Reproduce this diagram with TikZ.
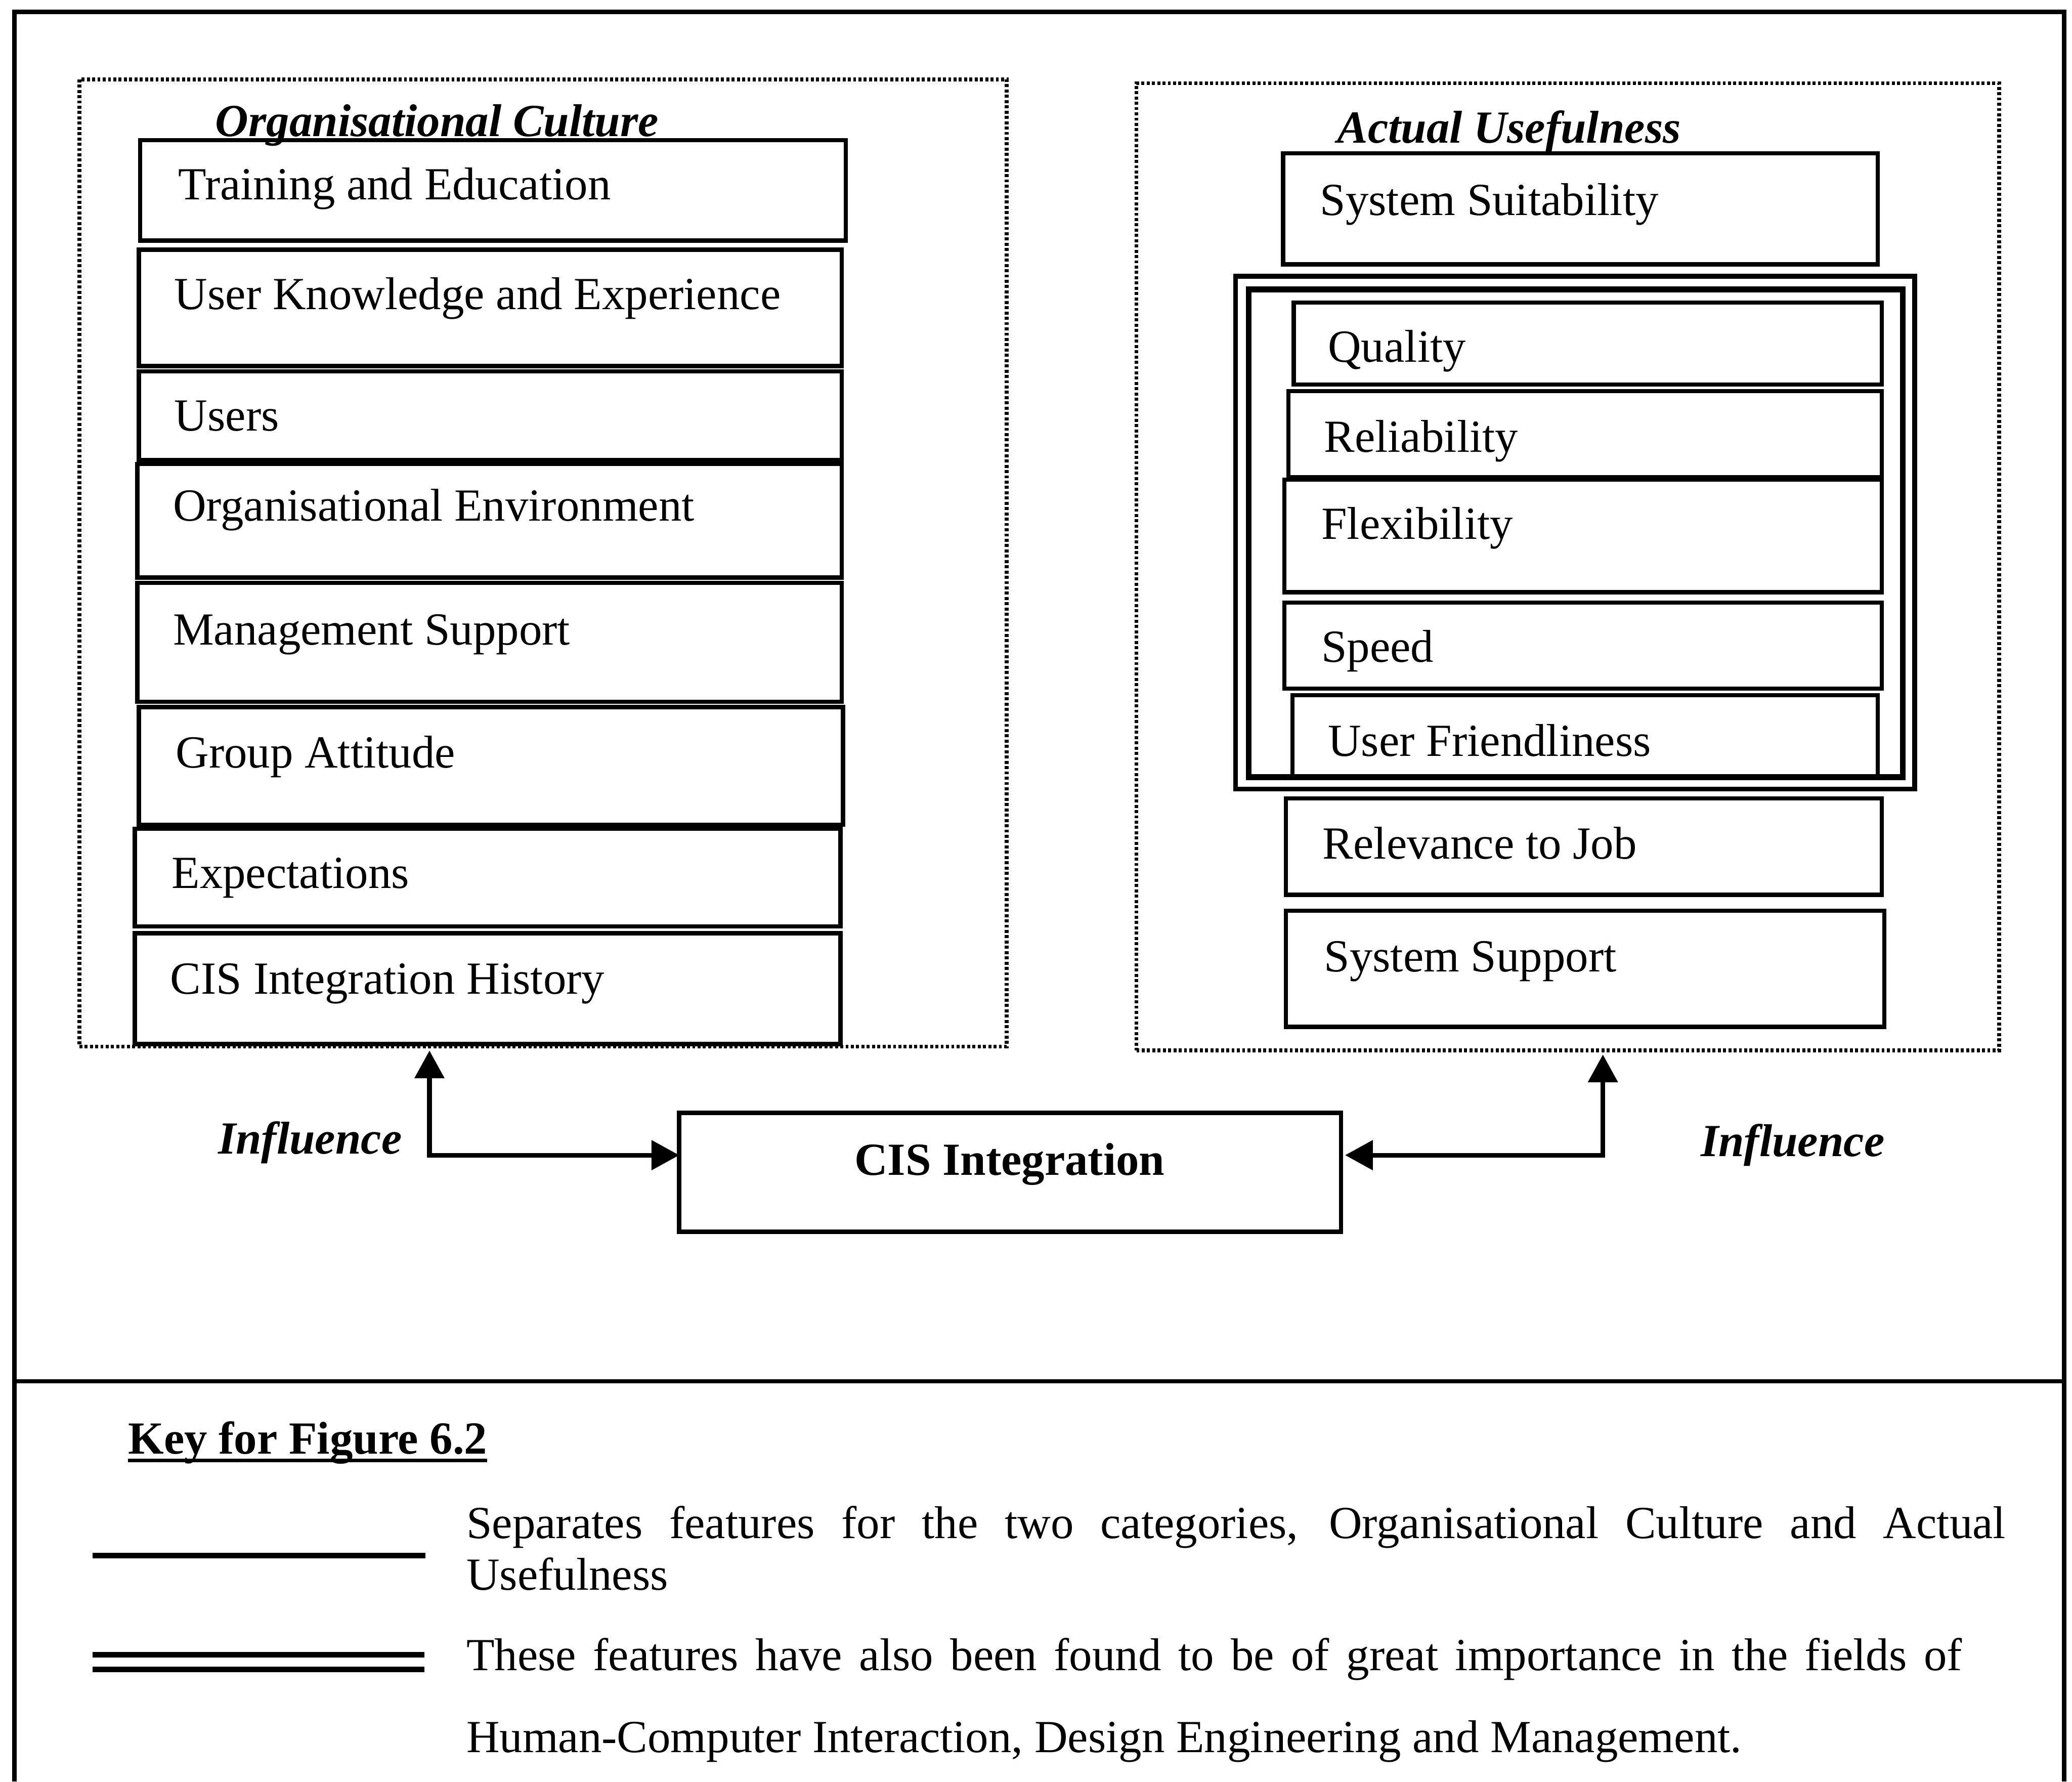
\documentclass[tikz,border=0pt]{standalone}
\usepackage{fontspec}
\setmainfont{Liberation Serif}
\usetikzlibrary{arrows.meta,calc}

% feature box: name, x1, y1, x2, y2, text x, text baseline y, text
\newcommand\featbox[8]{%
  \pgfmathsetmacro\fbw{(#4-#2)*0.02}%
  \pgfmathsetmacro\fbh{(#5-#3)*0.02}%
  \node[fbox, anchor=north west, minimum width=\fbw cm, minimum height=\fbh cm] (#1) at (#2,#3) {};%
  \node[txt, anchor=base west] (#1-text) at (#6,#7) {#8};%
}

\begin{document}
\begin{tikzpicture}[x=0.02cm, y=-0.02cm,
  frame/.style={line width=0.065cm},
  fbox/.style={draw, line width=0.065cm, inner sep=0pt, outer sep=0pt},
  group/.style={draw, line width=0.06cm, dash pattern=on 0.045cm off 0.035cm,
                inner sep=0pt, outer sep=0pt, anchor=north west},
  txt/.style={inner sep=0pt, outer sep=0pt, font=\fontsize{19.8pt}{23pt}\selectfont},
  ttl/.style={inner sep=0pt, outer sep=0pt, font=\fontsize{19.8pt}{23pt}\selectfont\bfseries\itshape},
  bold/.style={inner sep=0pt, outer sep=0pt, font=\fontsize{19.8pt}{23pt}\selectfont\bfseries},
  tip/.tip={Triangle[length=0.42cm, width=0.44cm]},
  conn/.style={line width=0.07cm, tip-tip},
  keyline/.style={line width=0.08cm},
]
\useasboundingbox (0,0) rectangle (1568,1348);

% outer frame and separator of the key
\draw[frame] (11,1348) -- (11,9) -- (1562,9) -- (1562,1348);
\coordinate (sepL) at (11,1045);
\coordinate (sepR) at (1562,1045);
\draw[frame] (sepL) -- (sepR);

% ---------- Organisational Culture ----------
\node[group, minimum width=14.04cm, minimum height=14.64cm] (oc) at (60,60) {};
\node[ttl, anchor=base west] (octitle) at (163,103) {Organisational Culture};
\draw[line width=0.05cm] ($(octitle.base west)+(0,3)$) -- ($(octitle.base east)+(0,3)$);

\featbox{train}{106}{106}{640}{182}{135}{151}{Training and Education}
\featbox{uke}{105}{189}{637}{277}{132}{234}{User Knowledge and Experience}
\featbox{users}{105}{281}{637}{348}{132}{326}{Users}
\featbox{orgenv}{104}{351}{637}{437}{131}{394}{Organisational Environment}
\featbox{mgmt}{104}{441}{637}{531}{131}{488}{Management Support}
\featbox{group}{105}{535}{638}{624}{133}{581}{Group Attitude}
\featbox{expect}{102}{627}{636}{701}{130}{672}{Expectations}
\featbox{hist}{102}{706}{636}{790}{129}{752}{CIS Integration History}

% ---------- Actual Usefulness ----------
\node[group, minimum width=13.06cm, minimum height=14.64cm] (au) at (860,63) {};
\node[ttl, anchor=base west] (autitle) at (1012,108) {Actual Usefulness};

\featbox{suit}{971}{116}{1421}{200}{999}{163}{System Suitability}

% double frame round the features of wider importance
\node[fbox, line width=0.07cm, anchor=north west, minimum width=10.28cm, minimum height=7.76cm] (dblout) at (935,209) {};
\node[fbox, line width=0.09cm, anchor=north west, minimum width=9.9cm, minimum height=7.38cm] (dblin) at (945,219) {};

\featbox{quality}{979}{229}{1424}{291}{1005}{274}{Quality}
\featbox{reliab}{975}{296}{1424}{361}{1002}{342}{Reliability}
\featbox{flex}{972}{363}{1424}{448}{1000}{408}{Flexibility}
\featbox{speed}{972}{456}{1424}{521}{1000}{501}{Speed}
\featbox{friendly}{978}{526}{1421}{588}{1005}{572}{User Friendliness}
\featbox{relev}{973}{604}{1424}{677}{1001}{650}{Relevance to Job}
\featbox{support}{973}{689}{1426}{777}{1002}{735}{System Support}

% ---------- CIS Integration and influences ----------
\node[fbox, anchor=north west, minimum width=10.02cm, minimum height=1.8cm] (cis) at (514,842) {};
\node[bold, anchor=base] (cistext) at (764,889) {CIS Integration};

\coordinate (lcorner) at (325,874);
\coordinate (rcorner) at (1213,874);
\draw[conn] ($(oc.south -| lcorner)+(0,3)$) -- (lcorner) -- (cis.west |- lcorner);
\draw[conn] ($(au.south -| rcorner)+(0,3)$) -- (rcorner) -- ($(cis.east |- rcorner)+(3,0)$);

\node[ttl, anchor=base west] (inflL) at (165,873) {Influence};
\node[ttl, anchor=base west] (inflR) at (1287,875) {Influence};

% ---------- key ----------
\node[bold, anchor=base west] (key) at (97,1100) {Key for Figure 6.2};
\draw[line width=0.06cm] ($(key.base west)+(0,5)$) -- ($(key.base east)+(0,5)$);

\coordinate (k1a) at (70,1177);
\coordinate (k1b) at (322,1177);
\draw[keyline] (k1a) -- (k1b);
\node[txt, anchor=base west] (k1t1) at (353,1164)
  {\makebox[23.3cm][s]{Separates features for the two categories, Organisational Culture and Actual}};
\node[txt, anchor=base west] (k1t2) at (353,1203) {Usefulness};

\coordinate (k2a) at (70,1252);
\coordinate (k2b) at (321,1252);
\coordinate (k2c) at (70,1263);
\coordinate (k2d) at (321,1263);
\draw[keyline] (k2a) -- (k2b);
\draw[keyline] (k2c) -- (k2d);
\node[txt, anchor=base west] (k2t1) at (353,1264)
  {\makebox[22.64cm][s]{These features have also been found to be of great importance in the fields of}};
\node[txt, anchor=base west] (k2t2) at (353,1326)
  {Human-Computer Interaction, Design Engineering and Management.};
\end{tikzpicture}
\end{document}
